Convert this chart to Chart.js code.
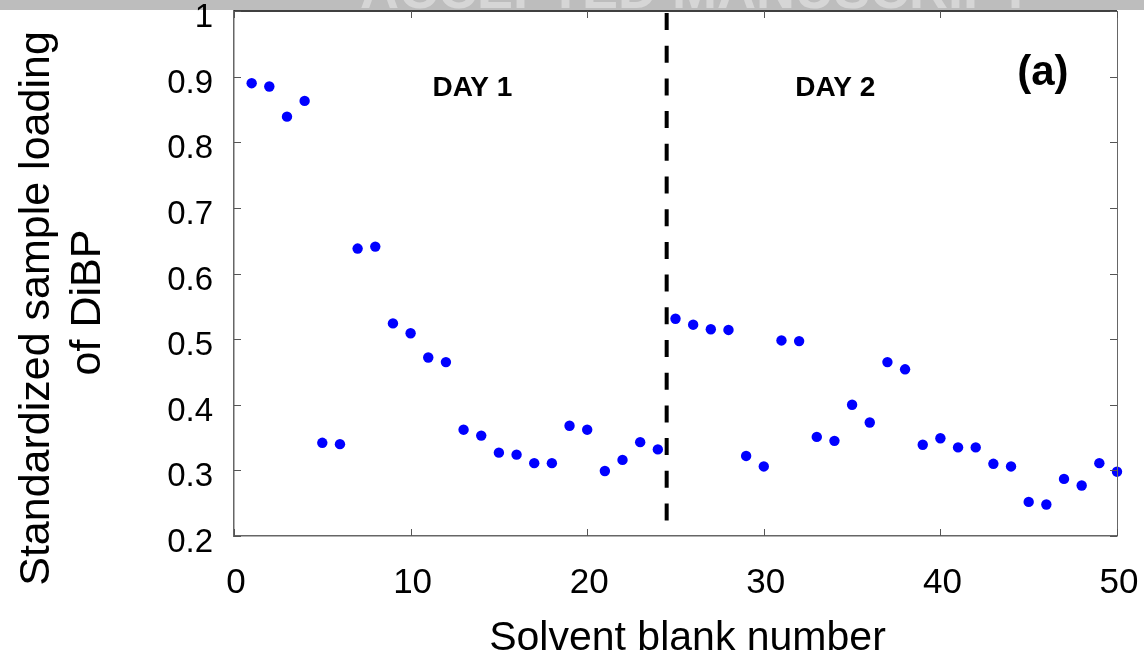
<!DOCTYPE html>
<html>
<head>
<meta charset="utf-8">
<script src="https://cdn.jsdelivr.net/npm/chart.js@4.4.1/dist/chart.umd.min.js"></script>
<style>
  html, body { margin: 0; padding: 0; background: #fff; }
  #wrap { width: 1144px; height: 663px; }
</style>
</head>
<body>
<div id="wrap"><canvas id="chart" width="1144" height="663"></canvas></div>
<script>
// solvent blank number (x) and standardized DiBP loading (y)
const blankNumbers = [
  1, 2, 3, 4, 5, 6, 7, 8, 9, 10, 11, 12, 13, 14, 15, 16, 17, 18, 19, 20, 21, 22, 23, 24,
  25, 26, 27, 28, 29, 30, 31, 32, 33, 34, 35, 36, 37, 38, 39, 40, 41, 42, 43, 44, 45, 46, 47, 48, 49, 50,
];
const loadingDay1 = [
  0.890, 0.885, 0.839, 0.863, 0.342, 0.340, 0.638, 0.641, 0.524, 0.509, 0.472, 0.465,
  0.362, 0.353, 0.327, 0.324, 0.311, 0.311, 0.368, 0.362, 0.299, 0.316, 0.343, 0.332,
];
const loadingDay2 = [
  0.531, 0.522, 0.515, 0.514, 0.322, 0.306, 0.498, 0.497, 0.351, 0.345, 0.400, 0.373, 0.465,
  0.454, 0.339, 0.349, 0.335, 0.335, 0.310, 0.306, 0.252, 0.248, 0.287, 0.277, 0.311, 0.298,
];
const xTicks = [0, 10, 20, 30, 40, 50];
const yTicks = [0.2, 0.3, 0.4, 0.5, 0.6, 0.7, 0.8, 0.9, 1];
const dayBoundary = 24.5;
const dayLabels = ['DAY 1', 'DAY 2'];
const panelLabel = '(a)';
const xTitle = 'Solvent blank number';
const yTitle = ['Standardized sample loading', 'of DiBP'];

const loading = loadingDay1.concat(loadingDay2);
const points = blankNumbers.map((n, i) => ({ x: n, y: loading[i] }));

const FONT = '"Liberation Sans", Arial, Helvetica, sans-serif';

const figurePlugin = {
  id: 'figureExtras',
  beforeDraw(chart) {
    const ctx = chart.ctx;
    ctx.save();
    // grey banner with the cut-off watermark text
    ctx.fillStyle = '#bdbdbd';
    ctx.fillRect(0, 0, chart.width, 10);
    ctx.beginPath();
    ctx.rect(0, 0, chart.width, 10);
    ctx.clip();
    ctx.fillStyle = '#d6d6d6';
    ctx.font = `bold 54px ${FONT}`;
    ctx.textAlign = 'center';
    ctx.textBaseline = 'alphabetic';
    ctx.fillText('ACCEPTED MANUSCRIPT', 696, 8);
    ctx.restore();
  },
  afterDatasetsDraw(chart) {
    const { ctx, chartArea: area, scales } = chart;
    const x = scales.x;
    const y = scales.y;
    ctx.save();

    // frame: top and right edges, bottom/left come from the scale borders
    ctx.strokeStyle = '#000';
    ctx.lineWidth = 1.5;
    ctx.beginPath();
    ctx.moveTo(area.left, area.top);
    ctx.lineTo(area.right, area.top);
    ctx.stroke();
    ctx.strokeStyle = '#666';
    ctx.lineWidth = 1;
    ctx.beginPath();
    ctx.moveTo(area.right + 0.5, area.top);
    ctx.lineTo(area.right + 0.5, area.bottom);
    ctx.stroke();

    // inward ticks on all four sides
    ctx.strokeStyle = '#555';
    ctx.lineWidth = 1;
    const len = 7;
    ctx.beginPath();
    xTicks.forEach((v) => {
      const px = Math.round(x.getPixelForValue(v)) + 0.5;
      ctx.moveTo(px, area.bottom);
      ctx.lineTo(px, area.bottom - len);
      ctx.moveTo(px, area.top);
      ctx.lineTo(px, area.top + len);
    });
    yTicks.forEach((v) => {
      const py = Math.round(y.getPixelForValue(v)) + 0.5;
      ctx.moveTo(area.left, py);
      ctx.lineTo(area.left + len, py);
      ctx.moveTo(area.right, py);
      ctx.lineTo(area.right - len, py);
    });
    ctx.stroke();

    // dashed day boundary
    const bx = x.getPixelForValue(dayBoundary);
    ctx.strokeStyle = '#000';
    ctx.lineWidth = 4;
    ctx.setLineDash([17, 15.7]);
    ctx.beginPath();
    ctx.moveTo(bx, area.top + 2);
    ctx.lineTo(bx, area.bottom);
    ctx.stroke();
    ctx.setLineDash([]);

    // day labels and panel letter
    ctx.fillStyle = '#000';
    ctx.textAlign = 'center';
    ctx.textBaseline = 'alphabetic';
    ctx.font = `bold 28px ${FONT}`;
    ctx.fillText(dayLabels[0], x.getPixelForValue(13.5), y.getPixelForValue(0.871));
    ctx.fillText(dayLabels[1], x.getPixelForValue(34.05), y.getPixelForValue(0.871));
    ctx.font = `bold 42px ${FONT}`;
    ctx.fillText(panelLabel, x.getPixelForValue(45.8), y.getPixelForValue(0.887));

    // axis titles
    ctx.font = `41px ${FONT}`;
    ctx.fillText(xTitle, (area.left + area.right) / 2 + 12, chart.height - 13);

    ctx.font = `43px ${FONT}`;
    const midY = (area.top + area.bottom) / 2;
    ctx.save();
    ctx.translate(49, midY + 35);
    ctx.rotate(-Math.PI / 2);
    ctx.fillText(yTitle[0], 0, 0);
    ctx.restore();
    ctx.save();
    ctx.translate(100, midY + 29);
    ctx.rotate(-Math.PI / 2);
    ctx.fillText(yTitle[1], 0, 0);
    ctx.restore();

    ctx.restore();
  },
};

new Chart(document.getElementById('chart'), {
  type: 'scatter',
  data: {
    datasets: [
      {
        data: points,
        backgroundColor: '#0000ff',
        borderColor: '#0000ff',
        borderWidth: 0,
        pointRadius: 5.2,
        pointHoverRadius: 5.2,
        clip: false,
      },
    ],
  },
  options: {
    responsive: false,
    animation: false,
    devicePixelRatio: 1,
    layout: { padding: { top: 11, right: 27, left: 0, bottom: 0 } },
    plugins: {
      legend: { display: false },
      tooltip: { enabled: false },
    },
    scales: {
      x: {
        type: 'linear',
        min: 0,
        max: 50,
        afterBuildTicks: (scale) => {
          scale.ticks = xTicks.map((v) => ({ value: v }));
        },
        afterFit: (scale) => {
          scale.height = 127;
          scale.paddingLeft = 0;
          scale.paddingRight = 0;
        },
        grid: { display: false, drawTicks: false },
        border: { display: true, color: '#666', width: 1.5 },
        ticks: {
          color: '#000',
          padding: 26,
          labelOffset: 2,
          maxRotation: 0,
          font: { family: FONT, size: 35 },
        },
      },
      y: {
        type: 'linear',
        min: 0.2,
        max: 1,
        afterBuildTicks: (scale) => {
          scale.ticks = yTicks.map((v) => ({ value: v }));
        },
        afterFit: (scale) => {
          scale.width = 234;
          scale.paddingTop = 0;
          scale.paddingBottom = 0;
        },
        grid: { display: false, drawTicks: false },
        border: { display: true, color: '#666', width: 1.5 },
        ticks: {
          color: '#000',
          padding: 21,
          labelOffset: 7,
          font: { family: FONT, size: 33 },
          callback: (v) => String(Math.round(v * 10) / 10),
        },
      },
    },
  },
  plugins: [figurePlugin],
});
</script>
</body>
</html>
